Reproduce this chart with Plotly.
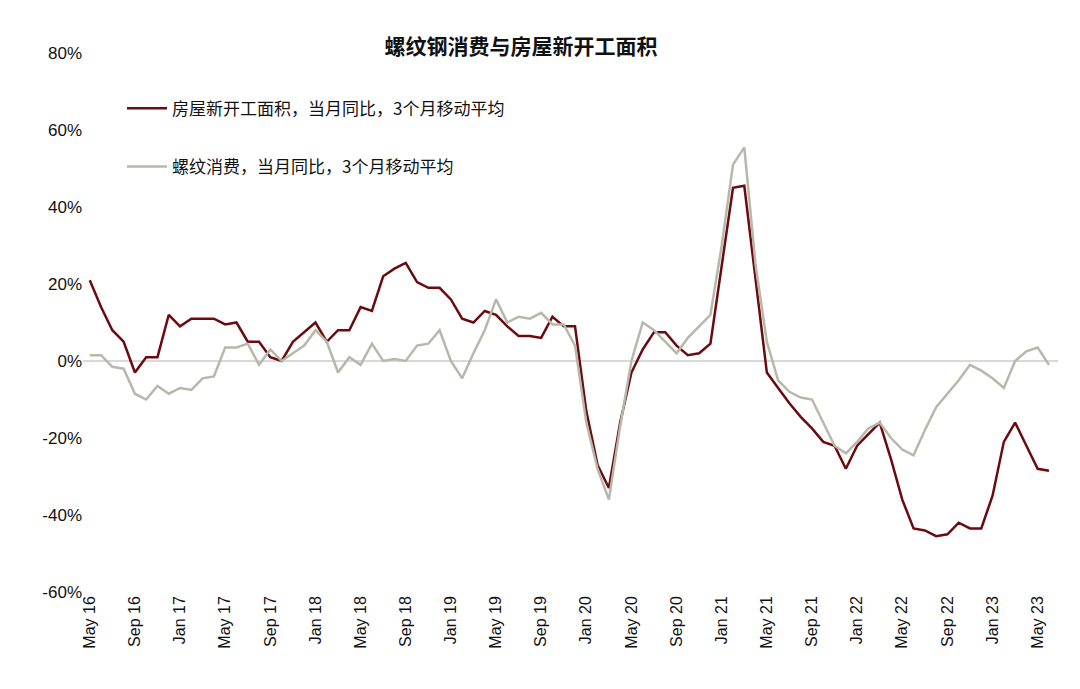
import plotly.graph_objects as go
import pandas as pd

months = pd.date_range("2016-05-01", "2023-06-01", freq="MS")
labels = [d.strftime("%b %y") for d in months]

house = [21,14,8,5,-3,1,1,12,
         9,11,11,11,9.5,10,5,5,1,0,5,7.5,
         10,5,8,8,14,13,22,24,25.5,20.5,19,19,
         16,11,10,13,12,9,6.5,6.5,6,11.5,9,9,
         -13,-27,-33,-16,-3,3,7.5,7.5,4,1.5,2,4.5,
         25,45,45.5,21,-3,-7,-11,-14.5,-17.5,-21,-22,-28,
         -22,-19,-16,-25.5,-36,-43.5,-44,-45.5,-45,-42,-43.5,-43.5,
         -35,-21,-16,-22,-28,-28.5]
rebar = [1.5,1.5,-1.5,-2,-8.5,-10,-6.5,-8.5,
         -7,-7.5,-4.5,-4,3.5,3.5,4.5,-1,3,0,2,4,
         8,5,-3,1,-1,4.5,0,0.5,0,4,4.5,8,
         0,-4.5,2,8,16,10,11.5,11,12.5,9.5,9.5,4,
         -16,-28,-36,-17,0,10,8,5,2,6,9,12,
         30,51,55.5,25,5,-5,-8,-9.5,-10,-16,-22,-24,
         -21,-17.5,-16,-20,-23,-24.5,-18,-12,-8.5,-5,-1,-2.5,
         -4.5,-7,0,2.5,3.5,-1]
tick_labels = labels[::4]
yticks = [80,60,40,20,0,-20,-40,-60]

fig = go.Figure()
fig.add_trace(go.Scatter(x=labels, y=house, mode="lines", name="房屋新开工面积，当月同比，3个月移动平均",
                         legendgroup="a", line=dict(color="#6b0a0f", width=2.5)))
fig.add_trace(go.Scatter(x=labels, y=rebar, mode="lines", name="螺纹消费，当月同比，3个月移动平均",
                         legendgroup="b", line=dict(color="#b8b8aa", width=2.5)))
fig.update_layout(
    width=1080, height=689, plot_bgcolor="white", paper_bgcolor="white",
    margin=dict(l=75, r=30, t=45, b=105),
    title=dict(text="<b>螺纹钢消费与房屋新开工面积</b>", x=0.475, xanchor="center", y=0.955,
               font=dict(size=21, color="#111", family="Noto Sans CJK SC")),
    font=dict(family="Liberation Sans, Noto Sans CJK SC", size=15, color="#111"),
    legend=dict(x=0.04, y=0.93, xanchor="left", yanchor="top", bgcolor="rgba(0,0,0,0)",
                font=dict(size=17, family="Noto Sans CJK SC"), traceorder="grouped",
                tracegroupgap=33, itemwidth=40),
    showlegend=True,
)
fig.update_xaxes(type="category", tickvals=tick_labels, ticktext=tick_labels, tickangle=-90,
                 showgrid=False, showline=False, ticks="", range=[-0.6, len(labels) - 0.2],
                 tickfont=dict(size=16))
fig.update_yaxes(range=[-60, 80], tickvals=yticks, ticktext=[f"{v}%" for v in yticks],
                 showgrid=False, zeroline=True, zerolinecolor="#d9d9d9", zerolinewidth=1.5,
                 tickfont=dict(size=17))
fig.write_html("out.html")
